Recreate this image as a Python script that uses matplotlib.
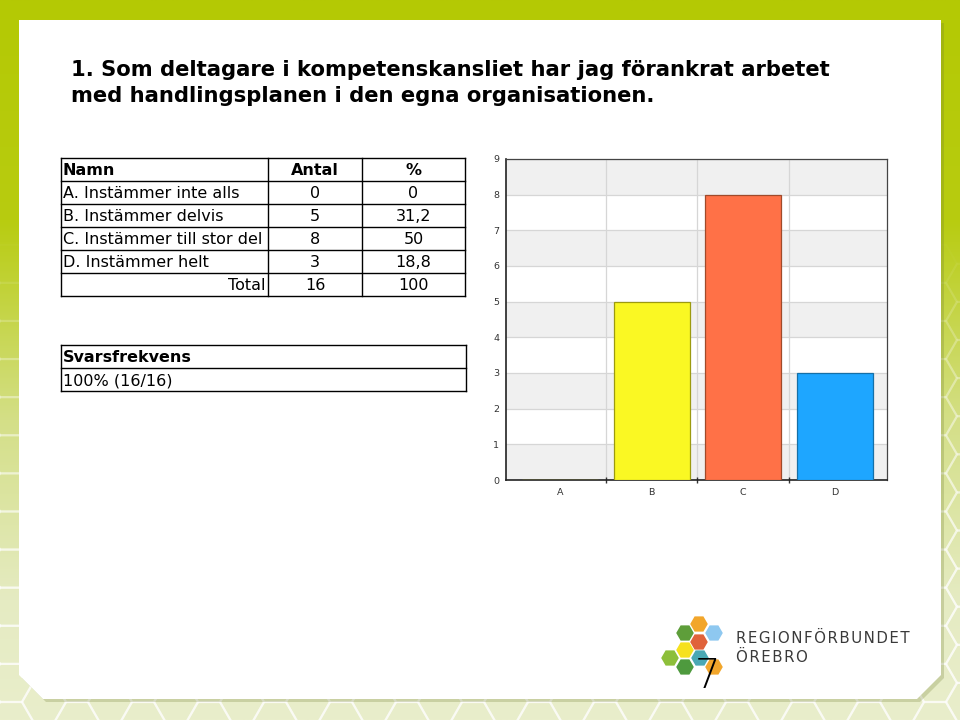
import numpy as np
import matplotlib
matplotlib.use("Agg")
import matplotlib.pyplot as plt
from matplotlib.patches import Polygon, RegularPolygon

# ---- data ----
title_lines = ["1. Som deltagare i kompetenskansliet har jag förankrat arbetet",
               "med handlingsplanen i den egna organisationen."]
categories = ["A", "B", "C", "D"]
names = ["A. Instämmer inte alls", "B. Instämmer delvis",
         "C. Instämmer till stor del", "D. Instämmer helt"]
counts = [0, 5, 8, 3]
percents = ["0", "31,2", "50", "18,8"]
total_count = "16"
total_percent = "100"
response_rate = "100% (16/16)"
bar_colors = ["#FFFF33", "#FAF823", "#FF7147", "#1EA6FF"]
bar_edges = ["#A0A000", "#9C9A10", "#A04A2A", "#1570A8"]
y_ticks = list(range(0, 10))
logo_lines = ["REGIONFÖRBUNDET", "ÖREBRO"]
page_number = "7"

W, H = 960, 720
fig = plt.figure(figsize=(9.6, 7.2), dpi=100)

# ---- background overlay (pixel coordinates) ----
bg = fig.add_axes([0, 0, 1, 1])
bg.set_xlim(0, W)
bg.set_ylim(H, 0)
bg.axis("off")

ys = np.array([0, 220, 420, 600, 720])
cols = np.array([[180, 201, 4], [184, 204, 16], [212, 223, 135],
                 [229, 235, 194], [233, 238, 203]]) / 255.0
yy = np.linspace(0, H, 300)
grad = np.stack([np.interp(yy, ys, cols[:, i]) for i in range(3)], axis=-1)
grad = np.repeat(grad[:, None, :], 2, axis=1)
bg.imshow(grad, extent=[0, W, H, 0], aspect="auto", zorder=0)

# honeycomb texture, fading in towards the bottom
R = 22
for ci, cx in enumerate(np.arange(-R, W + 2 * R, 1.5 * R)):
    off = (np.sqrt(3) * R / 2) if ci % 2 else 0
    for cy in np.arange(-R + off, H + 2 * R, np.sqrt(3) * R):
        a = float(np.clip((cy - 250) / 350, 0, 1)) * 0.55
        if a <= 0.01:
            continue
        bg.add_patch(RegularPolygon((cx, cy), 6, radius=R, orientation=np.pi / 6,
                                    fill=False, edgecolor="white", lw=1.6,
                                    alpha=a, zorder=1))

panel = [(19, 20), (941, 20), (941, 675), (917, 699), (43, 699), (19, 675)]
shadow = [(x + 3, y + 3) for x, y in panel]
bg.add_patch(Polygon(shadow, closed=True, facecolor="#6E7A30", alpha=0.25,
                     edgecolor="none", zorder=2))
bg.add_patch(Polygon(panel, closed=True, facecolor="white", edgecolor="none", zorder=3))

# title
for i, line in enumerate(title_lines):
    bg.text(71, 70 + i * 26, line, fontsize=15.2, fontweight="bold",
            family="DejaVu Sans", va="center", ha="left", color="black", zorder=5)

# ---- table ----
tx0, tx1, tx2, tx3 = 61, 268, 362, 465
row_h = 23
ty0 = 158
nrows = 6
lw = 1.0
for r in range(nrows + 1):
    y = ty0 + r * row_h
    bg.plot([tx0, tx3], [y, y], color="black", lw=lw, zorder=5)
for x in [tx0, tx1, tx2, tx3]:
    bg.plot([x, x], [ty0, ty0 + nrows * row_h], color="black", lw=lw, zorder=5)

fs = 11.5
cy = ty0 + row_h / 2 + 1
bg.text(tx0 + 2, cy, "Namn", fontsize=fs, fontweight="bold", va="center", zorder=6)
bg.text((tx1 + tx2) / 2, cy, "Antal", fontsize=fs, fontweight="bold", va="center", ha="center", zorder=6)
bg.text((tx2 + tx3) / 2, cy, "%", fontsize=fs, fontweight="bold", va="center", ha="center", zorder=6)
for i, (n, c, p) in enumerate(zip(names, counts, percents)):
    cy = ty0 + (i + 1) * row_h + row_h / 2 + 1
    bg.text(tx0 + 2, cy, n, fontsize=fs, va="center", zorder=6)
    bg.text((tx1 + tx2) / 2, cy, str(c), fontsize=fs, va="center", ha="center", zorder=6)
    bg.text((tx2 + tx3) / 2, cy, p, fontsize=fs, va="center", ha="center", zorder=6)
cy = ty0 + 5 * row_h + row_h / 2 + 1
bg.text(tx1 - 2, cy, "Total", fontsize=fs, va="center", ha="right", zorder=6)
bg.text((tx1 + tx2) / 2, cy, total_count, fontsize=fs, va="center", ha="center", zorder=6)
bg.text((tx2 + tx3) / 2, cy, total_percent, fontsize=fs, va="center", ha="center", zorder=6)

# response rate table
sy0 = 345
for r in range(3):
    bg.plot([tx0, 466], [sy0 + r * row_h, sy0 + r * row_h], color="black", lw=lw, zorder=5)
for x in [tx0, 466]:
    bg.plot([x, x], [sy0, sy0 + 2 * row_h], color="black", lw=lw, zorder=5)
bg.text(tx0 + 2, sy0 + row_h / 2 + 1, "Svarsfrekvens", fontsize=fs, fontweight="bold", va="center", zorder=6)
bg.text(tx0 + 2, sy0 + 1.5 * row_h + 1, response_rate, fontsize=fs, va="center", zorder=6)

# ---- logo ----
hexes = [((699, 624), "#F2A62B"), ((714, 633), "#8EC8F0"), ((685, 633), "#5E9E3A"),
         ((699, 642), "#E0623A"), ((685, 650), "#F6E11E"), ((700, 658), "#4AA8B4"),
         ((670, 658), "#8DBF3A"), ((685, 667), "#4E9A3E"), ((714, 667), "#F2A62B")]
for (hx, hy), hc in hexes:
    bg.add_patch(RegularPolygon((hx, hy), 6, radius=8.8, orientation=np.pi / 6,
                                facecolor=hc, edgecolor="none", zorder=6))

# letter-spaced logo text (hair spaces between letters)
for line, ly in zip(logo_lines, [638, 657]):
    bg.text(736, ly, "\u200a".join(line), fontsize=10.8, family="DejaVu Sans",
            color="#3A3A3A", va="center", ha="left", zorder=6)

bg.text(708, 677, page_number, fontsize=29, color="black", va="center", ha="center",
        fontweight="light", zorder=7)

# ---- bar chart ----
ax = fig.add_axes([506 / W, 1 - 480 / H, 381 / W, 321 / H])
ax.set_facecolor("white")
x = np.arange(len(categories))
for k in range(0, 9, 2):
    ax.axhspan(k, k + 1, color="#F0F0F0", zorder=0, lw=0)
for k in y_ticks:
    ax.axhline(k, color="#D6D6D6", lw=0.9, zorder=1)
for b in [0.5, 1.5, 2.5]:
    ax.axvline(b, color="#D6D6D6", lw=0.9, zorder=1)
ax.bar(x, counts, width=0.83, color=bar_colors, edgecolor=bar_edges, lw=0.9, zorder=3)
ax.set_xlim(-0.59, 3.57)
ax.set_ylim(0, 9)
ax.set_yticks(y_ticks)
ax.set_xticks(x)
ax.set_xticklabels(categories)
ax.set_xticks([0.5, 1.5, 2.5], minor=True)
ax.tick_params(axis="x", which="major", length=0, labelsize=6.8, pad=6, labelcolor="#333333")
ax.tick_params(axis="x", which="minor", length=4, width=1, color="#333333", direction="inout")
ax.tick_params(axis="y", length=0, labelsize=6.8, pad=5, labelcolor="#333333")
for s in ["left", "bottom"]:
    ax.spines[s].set_color("#222222")
    ax.spines[s].set_linewidth(1.2)
for s in ["top", "right"]:
    ax.spines[s].set_color("#444444")
    ax.spines[s].set_linewidth(0.9)

fig.savefig("out.png", dpi=100)
